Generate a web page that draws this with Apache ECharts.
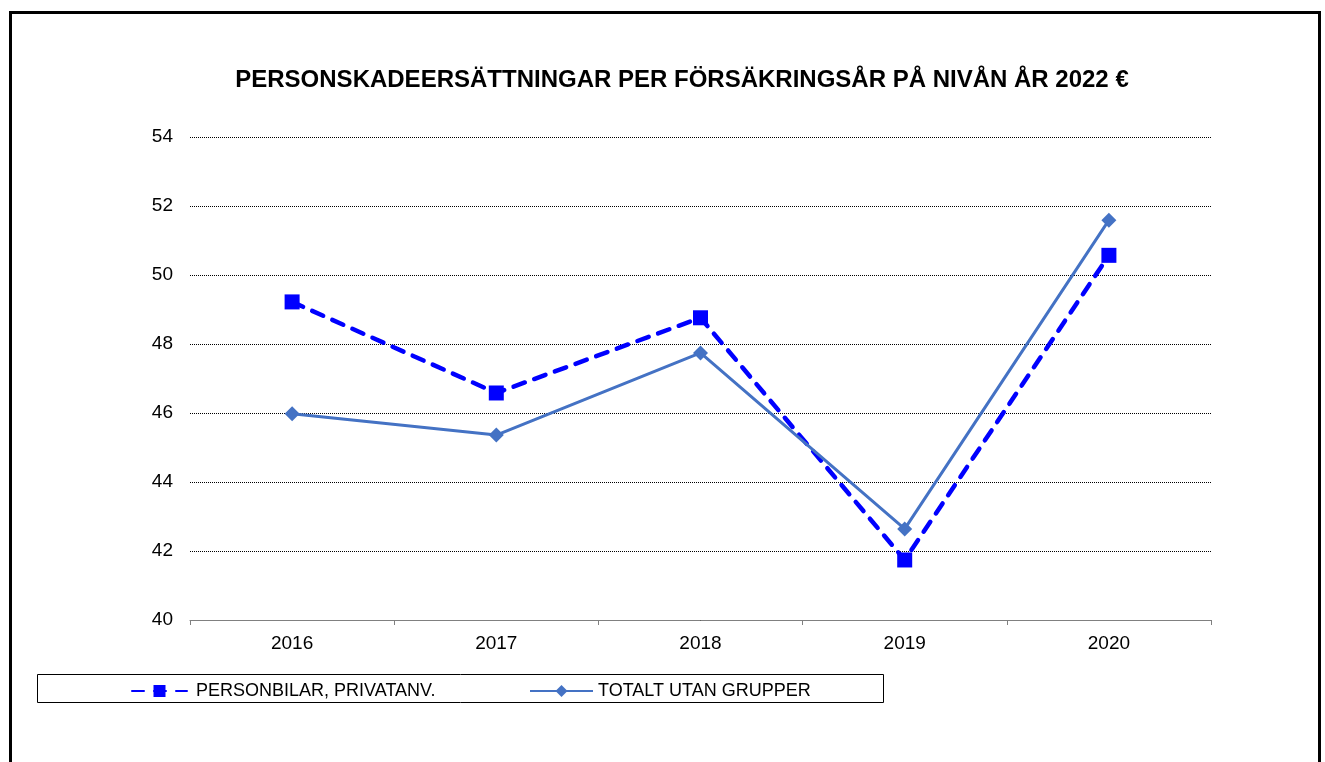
<!DOCTYPE html>
<html><head><meta charset="utf-8">
<script src="https://cdn.jsdelivr.net/npm/echarts@6/dist/echarts.min.js"></script>
<style>html,body{margin:0;padding:0;background:#fff}#c{width:1325px;height:762px}</style>
</head><body><div id="c"></div>
<script>
const categories = ['2016','2017','2018','2019','2020'];
const personbilar = [49.22, 46.58, 48.76, 41.74, 50.57];
const totalt = [45.98, 45.36, 47.74, 42.64, 51.59];
const seriesNames = ['PERSONBILAR, PRIVATANV.', 'TOTALT UTAN GRUPPER'];
const title = 'PERSONSKADEERSÄTTNINGAR PER FÖRSÄKRINGSÅR PÅ NIVÅN ÅR 2022 €';

const chart = echarts.init(document.getElementById('c'), null, {renderer:'canvas'});
const font = 'Liberation Sans, Arial, sans-serif';
chart.setOption({
  animation:false,
  backgroundColor:'#fff',
  title:{text:title, left:677, textAlign:'center', top:63,
    textStyle:{fontFamily:font, fontSize:24, fontWeight:'bold', color:'#000'}},
  graphic:[
    {type:'rect', shape:{x:10.5, y:12.5, width:1309, height:780}, style:{fill:'none', stroke:'#000', lineWidth:3}},
    {type:'rect', shape:{x:37.5, y:674.5, width:846, height:28}, style:{fill:'none', stroke:'#000', lineWidth:1}}
  ],
  grid:{left:190, right:114, top:137, bottom:142, containLabel:false},
  legend:[
    {left:126, top:677, itemWidth:55, itemHeight:15,
      textStyle:{fontFamily:font, fontSize:18, color:'#000', padding:[0,0,0,4]},
      data:[seriesNames[0]]},
    {left:524, top:677, itemWidth:63, itemHeight:15,
      textStyle:{fontFamily:font, fontSize:18, color:'#000'},
      data:[seriesNames[1]]}
  ],
  xAxis:{type:'category', data:categories, boundaryGap:true,
    axisLine:{lineStyle:{color:'#808080', width:1}},
    axisTick:{show:true, length:5, lineStyle:{color:'#808080'}},
    axisLabel:{fontFamily:font, fontSize:19, color:'#000', margin:14}},
  yAxis:{type:'value', min:40, max:54, interval:2,
    axisLine:{show:false}, axisTick:{show:false},
    axisLabel:{fontFamily:font, fontSize:19, color:'#000', margin:17},
    splitLine:{lineStyle:{color:'#000', type:[1,1], width:1}}},
  series:[
    {name:seriesNames[0], type:'line', data:personbilar, symbol:'rect', symbolSize:15,
      itemStyle:{color:'#0000FF'},
      lineStyle:{color:'#0000FF', width:4.5, type:[12,10], cap:'round'}},
    {name:seriesNames[1], type:'line', data:totalt, symbol:'diamond', symbolSize:15,
      itemStyle:{color:'#4472C4'},
      lineStyle:{color:'#4472C4', width:3}}
  ]
});
</script></body></html>
